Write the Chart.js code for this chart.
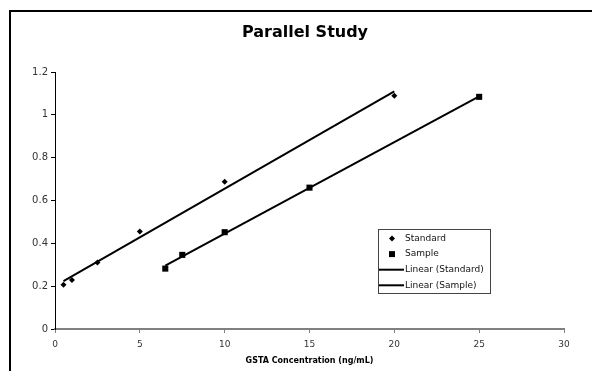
<!DOCTYPE html>
<html>
<head>
<meta charset="utf-8">
<script src="https://cdn.jsdelivr.net/npm/chart.js@4/dist/chart.umd.min.js"></script>
<style>
html, body { margin: 0; padding: 0; background: #fff; overflow: hidden; }
#frame { position: absolute; left: 9px; top: 10px; width: 583px; height: 361px;
         border-left: 2px solid #000; border-top: 2px solid #000; box-sizing: border-box; }
#wrap { position: absolute; left: 0; top: 0; width: 581px; height: 359px; }
</style>
</head>
<body>
<div id="frame"><div id="wrap"><canvas id="chartParallel"></canvas></div></div>
<script>
// standard curve
var stdConc = [0.5, 1, 2.5, 5, 10, 20];
var stdAbs = [0.207, 0.229, 0.31, 0.455, 0.688, 1.089];
// sample dilutions
var smpConc = [6.5, 7.5, 10, 15, 25];
var smpAbs = [0.282, 0.346, 0.452, 0.66, 1.084];
// trend line ends
var stdFitX = [0.5, 20];
var stdFitY = [0.223, 1.11];
var smpFitX = [6.5, 25];
var smpFitY = [0.296, 1.086];

var xTicks = [0, 5, 10, 15, 20, 25, 30];
var yTicks = [0, 0.2, 0.4, 0.6, 0.8, 1, 1.2];

var chartTitle = 'Parallel Study';

function pts(xs, ys) {
    var out = [];
    for (var i in xs) {
        out.push({ x: xs[i], y: ys[i] });
    }
    return out;
}

// excel centres the title a bit right of the canvas middle
var titleText = {
    id: 'titleText',
    afterDraw: function(chart) {
        var ctx = chart.ctx;
        ctx.save();
        ctx.font = 'bold 16px "DejaVu Sans"';
        ctx.fillStyle = '#000';
        ctx.textAlign = 'center';
        ctx.textBaseline = 'middle';
        ctx.fillText(chartTitle, 294, 20.5);
        ctx.restore();
    }
};

// legend sits inside the plot, like the excel one
var legendBox = {
    id: 'legendBox',
    afterDatasetsDraw: function(chart) {
        var ctx = chart.ctx;
        var bx = 367, by = 217, bw = 112, bh = 64;
        ctx.save();
        ctx.fillStyle = '#fff';
        ctx.fillRect(bx, by, bw, bh);
        ctx.strokeStyle = '#444';
        ctx.lineWidth = 1;
        ctx.strokeRect(bx + 0.5, by + 0.5, bw, bh);
        ctx.font = '9px "DejaVu Sans"';
        ctx.textBaseline = 'middle';
        var sets = chart.data.datasets;
        for (var i = 0; i < sets.length; i++) {
            var ry = by + 9.5 + i * 15.6;
            ctx.fillStyle = '#000';
            ctx.strokeStyle = '#000';
            if (sets[i].pointStyle === 'rectRot') {
                ctx.beginPath();
                ctx.moveTo(381, ry - 3);
                ctx.lineTo(384, ry);
                ctx.lineTo(381, ry + 3);
                ctx.lineTo(378, ry);
                ctx.closePath();
                ctx.fill();
            } else if (sets[i].pointStyle === 'rect') {
                ctx.fillRect(378, ry - 3, 6, 6);
            } else {
                ctx.lineWidth = 2;
                ctx.beginPath();
                ctx.moveTo(368, ry);
                ctx.lineTo(393, ry);
                ctx.stroke();
            }
            ctx.fillStyle = '#111';
            ctx.fillText(sets[i].label, 394, ry);
        }
        ctx.restore();
    }
};

var ctx = document.getElementById('chartParallel').getContext('2d');
var chart = new Chart(ctx, {
    type: 'scatter',
    data: {
        datasets: [{
            label: 'Standard',
            data: pts(stdConc, stdAbs),
            pointStyle: 'rectRot',
            pointRadius: 3,
            backgroundColor: '#000',
            borderColor: '#000',
            borderWidth: 0
        }, {
            label: 'Sample',
            data: pts(smpConc, smpAbs),
            pointStyle: 'rect',
            pointRadius: 4.3,
            backgroundColor: '#000',
            borderColor: '#000',
            borderWidth: 0
        }, {
            label: 'Linear (Standard)',
            type: 'line',
            data: pts(stdFitX, stdFitY),
            showLine: true,
            pointRadius: 0,
            borderColor: '#000',
            borderWidth: 2,
            fill: false
        }, {
            label: 'Linear (Sample)',
            type: 'line',
            data: pts(smpFitX, smpFitY),
            showLine: true,
            pointRadius: 0,
            borderColor: '#000',
            borderWidth: 2,
            fill: false
        }]
    },
    options: {
        responsive: true,
        maintainAspectRatio: false,
        animation: false,
        layout: { padding: { left: 0, right: 28, top: 60, bottom: 0 } },
        plugins: {
            legend: { display: false },
            tooltip: { enabled: false },
            title: { display: false }
        },
        scales: {
            x: {
                type: 'linear',
                min: 0,
                max: 30,
                afterFit: function(scale) { scale.height = 42; },
                afterBuildTicks: function(scale) {
                    scale.ticks = xTicks.map(function(v) { return { value: v }; });
                },
                ticks: { color: '#333', font: { family: 'DejaVu Sans', size: 9 }, padding: 6, maxRotation: 0 },
                grid: { drawOnChartArea: false, drawTicks: true, tickLength: 4, color: '#808080', lineWidth: 1 },
                border: { display: true, color: '#808080', width: 2 },
                title: {
                    display: true,
                    text: 'GSTA Concentration (ng/mL)',
                    color: '#000',
                    font: { family: 'DejaVu Sans', size: 8, weight: 'bold' },
                    padding: { top: 0, bottom: 5 }
                }
            },
            y: {
                type: 'linear',
                min: 0,
                max: 1.2,
                afterFit: function(scale) { scale.width = 44; },
                afterBuildTicks: function(scale) {
                    scale.ticks = yTicks.map(function(v) { return { value: v }; });
                },
                ticks: {
                    color: '#333',
                    font: { family: 'DejaVu Sans', size: 10 },
                    padding: 3,
                    callback: function(v) { return String(v); }
                },
                grid: { drawOnChartArea: false, drawTicks: true, tickLength: 4, color: '#000', lineWidth: 1 },
                border: { display: true, color: '#000', width: 1 }
            }
        }
    },
    plugins: [legendBox, titleText]
});
</script>
</body>
</html>
